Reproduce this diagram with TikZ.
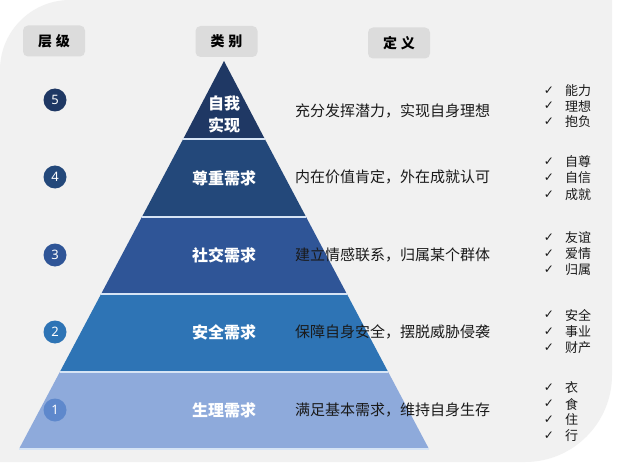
\documentclass[tikz,border=0pt]{standalone}
\usepackage{fontspec}
\setmainfont{Noto Sans}
\newfontfamily\cjk{Noto Sans CJK SC}
\newfontfamily\sym{DejaVu Sans}
\definecolor{panel}{HTML}{F1F1F1}
\definecolor{hdrbox}{HTML}{DCDCDC}
\definecolor{lvA}{HTML}{1F3864}
\definecolor{lvB}{HTML}{23487A}
\definecolor{lvC}{HTML}{2F5597}
\definecolor{lvD}{HTML}{2E74B5}
\definecolor{lvE}{HTML}{8EAADB}
\definecolor{circE}{HTML}{5E88CC}
\definecolor{sepline}{HTML}{D6E4F5}
\definecolor{deftext}{HTML}{1A1A1A}
\tikzset{
  hdr/.style={fill=hdrbox, rounded corners=5pt, minimum width=62pt, minimum height=31pt, inner sep=0pt, font=\cjk\bfseries\fontsize{14}{16}\selectfont, text=black},
  lvcirc/.style={circle, minimum size=23pt, inner sep=0pt, text=white, font=\fontsize{13}{15}\selectfont},
  cat/.style={text=white, align=center, inner sep=0pt, font=\cjk\bfseries\fontsize{16}{22}\selectfont},
  defn/.style={anchor=west, inner sep=0pt, text=deftext, font=\cjk\fontsize{15}{17}\selectfont},
  chk/.style={anchor=center, inner sep=0pt, text=deftext, font=\sym\fontsize{12}{14}\selectfont},
  itm/.style={anchor=west, inner sep=0pt, text=deftext, font=\cjk\fontsize{13}{15}\selectfont},
  sep/.style={sepline, line width=1.6pt}
}
\begin{document}
\begin{tikzpicture}[x=1pt,y=-1pt]
\useasboundingbox (0,0) rectangle (640,468);
\fill[white] (0,0) rectangle (640,468);
\fill[panel] (0,70) arc[start angle=180, end angle=270, radius=70] -- (612,0) -- (612,375) arc[start angle=0, end angle=90, radius=87] -- (0,462) -- cycle;

% headers
\node[hdr] (h1) at (54,41) {层\hspace{4pt}级};
\node[hdr] (h2) at (226.5,41.5) {类\hspace{4pt}别};
\node[hdr] (h3) at (399,43) {定\hspace{4pt}义};

% pyramid bands
\fill[lvE] (59.8,372) -- (388.2,372) -- (429,449) -- (19,449) -- cycle;
\fill[lvD] (101.1,294) -- (346.9,294) -- (388.2,372) -- (59.8,372) -- cycle;
\fill[lvC] (141.9,217) -- (306.1,217) -- (346.9,294) -- (101.1,294) -- cycle;
\fill[lvB] (183.2,139) -- (264.8,139) -- (306.1,217) -- (141.9,217) -- cycle;
\fill[lvA] (224,61) -- (264.8,139) -- (183.2,139) -- cycle;
\draw[sep] (183.2,139) -- (264.8,139);
\draw[sep] (141.9,217) -- (306.1,217);
\draw[sep] (101.1,294) -- (346.9,294);
\draw[sep] (59.8,372) -- (388.2,372);
\draw[sep] (19,449) -- (429,449);

% level circles
\node[lvcirc, fill=lvA] (c5) at (55,100) {5};
\node[lvcirc, fill=lvB] (c4) at (55,177) {4};
\node[lvcirc, fill=lvC] (c3) at (55,255) {3};
\node[lvcirc, fill=lvD] (c2) at (55,332) {2};
\node[lvcirc, fill=circE] (c1) at (55,410) {1};

% category labels
\node[cat] (k5) at (224,114) {自我\\实现};
\node[cat] (k4) at (224,178) {尊重需求};
\node[cat] (k3) at (224,255) {社交需求};
\node[cat] (k2) at (224,332) {安全需求};
\node[cat] (k1) at (224,410) {生理需求};

% definitions
\node[defn] (d5) at (295,111) {充分发挥潜力，实现自身理想};
\node[defn] (d4) at (295,177) {内在价值肯定，外在成就认可};
\node[defn] (d3) at (295,255) {建立情感联系，归属某个群体};
\node[defn] (d2) at (295,332) {保障自身安全，摆脱威胁侵袭};
\node[defn] (d1) at (295,410) {满足基本需求，维持自身生存};

% check lists
\foreach \n/\y/\t in {a1/91/能力, a2/106/理想, a3/122/抱负,
                      b1/162/自尊, b2/178/自信, b3/195/成就,
                      e1/238/友谊, e2/254/爱情, e3/270/归属,
                      f1/315/安全, f2/332/事业, f3/348/财产,
                      g1/388/衣, g2/404/食, g3/420/住, g4/436/行} {
  \node[chk] (m\n) at (549,\y) {✓};
  \node[itm] (t\n) at (565,\y) {\t};
}
\end{tikzpicture}
\end{document}
